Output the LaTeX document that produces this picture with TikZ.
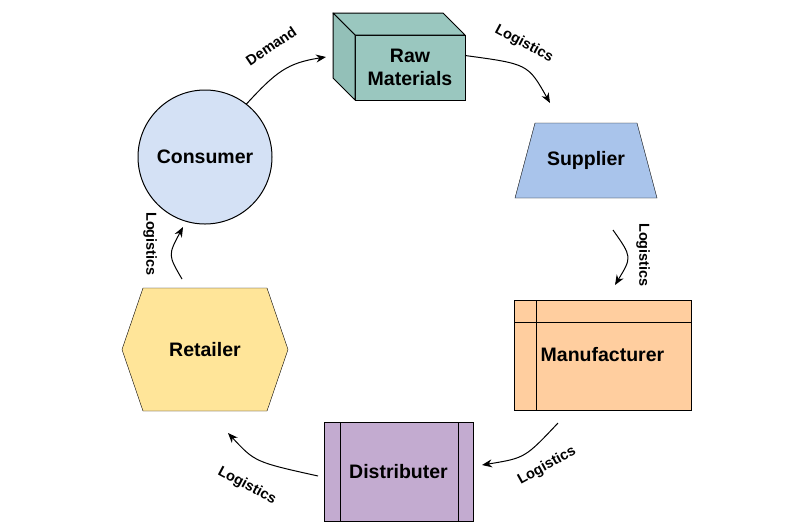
\documentclass[tikz,border=0pt]{standalone}
\usepackage{fontspec}
\setmainfont{Liberation Sans}
\usetikzlibrary{arrows.meta,backgrounds}
\definecolor{rawcol}{HTML}{9AC7BF}
\definecolor{rawside}{HTML}{93C0B8}
\definecolor{supcol}{HTML}{A9C4EB}
\definecolor{mancol}{HTML}{FFCE9F}
\definecolor{discol}{HTML}{C3ABD0}
\definecolor{retcol}{HTML}{FFE599}
\definecolor{concol}{HTML}{D4E1F5}

\begin{document}
\begin{tikzpicture}[x=1pt,y=-1pt,
  box/.style={draw,line width=1pt,inner sep=0pt,outer sep=0pt,align=center,
    font=\fontsize{19.5}{23}\selectfont\bfseries},
  lab/.style={font=\fontsize{14.5}{17}\selectfont\bfseries},
  flow/.style={line width=1pt,-{Stealth[length=10pt,width=8pt]}}]
  \node[box,fill=rawcol,minimum width=110pt,minimum height=65pt] (raw) at (410,67.5) {Raw\\Materials};
  \filldraw[fill=rawcol,line width=1pt,line join=round] (raw.north west) -- ++(-22,-22) -- ++(110,0) -- (raw.north east) -- cycle;
  \filldraw[fill=rawside,line width=1pt,line join=round] (raw.north west) -- ++(-22,-22) -- ++(0,65) -- (raw.south west) -- cycle;
  \node[box,draw=none,minimum width=142pt,minimum height=75pt] (sup) at (586,160.5) {Supplier};
  \node[box,fill=mancol,minimum width=177pt,minimum height=110pt] (man) at (602.5,355) {Manufacturer};
  \draw[line width=1pt] ([xshift=22pt]man.north west) -- ([xshift=22pt]man.south west)
    ([yshift=-22pt]man.north west) -- ([yshift=-22pt]man.north east);
  \node[box,fill=discol,minimum width=149pt,minimum height=99pt] (dis) at (398.5,471.5) {Distributer};
  \draw[line width=1pt] ([xshift=16pt]dis.north west) -- ([xshift=16pt]dis.south west)
    ([xshift=-15pt]dis.north east) -- ([xshift=-15pt]dis.south east);
  \node[box,draw=none,minimum width=166pt,minimum height=123pt] (ret) at (205,349.5) {Retailer};
  \node[box,fill=concol,circle,minimum size=134pt] (con) at (205,157) {Consumer};
  \begin{scope}[on background layer,line width=1pt,line join=round]
    \fill[white] (0,0) rectangle (800,531);
    \filldraw[fill=supcol] (sup.south west) -- ([xshift=20pt]sup.north west) -- ([xshift=-20pt]sup.north east)
      -- (sup.south east) -- cycle;
    \filldraw[fill=retcol] (ret.west) -- ([xshift=21pt]ret.north west) -- ([xshift=-21pt]ret.north east)
      -- (ret.east) -- ([xshift=-21pt]ret.south east) -- ([xshift=21pt]ret.south west) -- cycle;
  \end{scope}

  % loose ends of the arrows
  \coordinate (d1) at (326,57);
  \coordinate (a1) at (550,103);
  \coordinate (b0) at (613,230);
  \coordinate (b1) at (615,285);
  \coordinate (c0) at (558,423);
  \coordinate (c1) at (482,465);
  \coordinate (e0) at (318,476);
  \coordinate (e1) at (228,433);
  \coordinate (f0) at (182,279);
  \coordinate (f1) at (183,227);

  \draw[flow] (con.52) .. controls (276,72) and (287,63) .. (d1);
  \draw[flow] ([yshift=12pt]raw.east) .. controls (528,64) .. (a1);
  \draw[flow] (b0) .. controls (632,257) .. (b1);
  \draw[flow] (c0) .. controls (525,458) .. (c1);
  \draw[flow] (e0) .. controls (255,462) .. (e1);
  \draw[flow] (f0) .. controls (168,255) .. (f1);

  \node[lab,rotate=34] (dmd) at (271,46) {Demand};
  \foreach \n/\x/\y/\r in {1/524/44/-28,2/643/255/-90,3/547/466/29,4/247/486/-28,5/150/244/-90}
    \node[lab,rotate=\r] (lg\n) at (\x,\y) {Logistics};
\end{tikzpicture}
\end{document}
